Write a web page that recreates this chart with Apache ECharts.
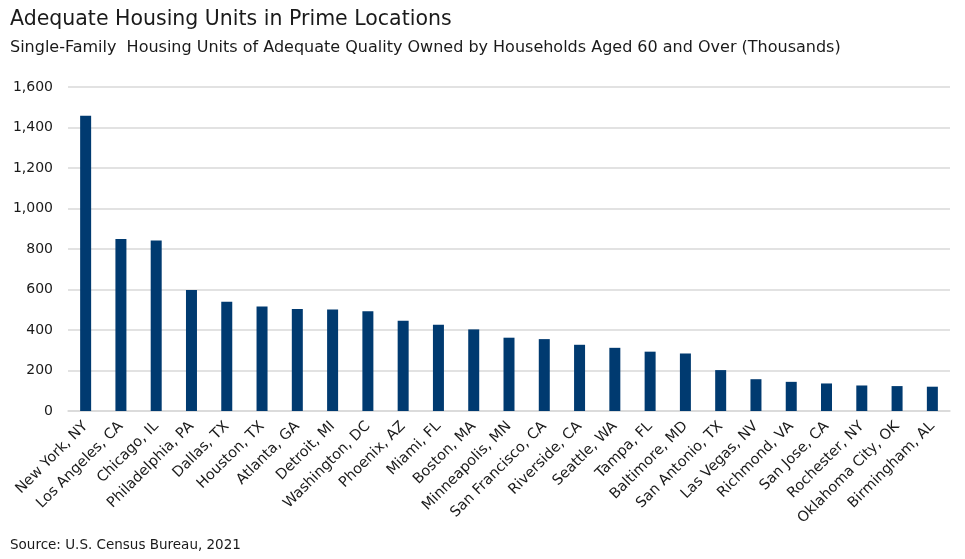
<!DOCTYPE html>
<html>
<head>
<meta charset="utf-8">
<script src="https://cdn.jsdelivr.net/npm/echarts@6/dist/echarts.min.js"></script>
<style>html,body{margin:0;padding:0;background:#fff}#c{width:965px;height:559px}</style>
</head>
<body>
<div id="c"></div>
<script>
const categories = ["New York, NY","Los Angeles, CA","Chicago, IL","Philadelphia, PA","Dallas, TX","Houston, TX","Atlanta, GA","Detroit, MI","Washington, DC","Phoenix, AZ","Miami, FL","Boston, MA","Minneapolis, MN","San Francisco, CA","Riverside, CA","Seattle, WA","Tampa, FL","Baltimore, MD","San Antonio, TX","Las Vegas, NV","Richmond, VA","San Jose, CA","Rochester, NY","Oklahoma City, OK","Birmingham, AL"];
const units = [1458,850,842,598,540,516,504,501,493,446,426,403,362,355,327,312,293,284,202,157,144,136,126,123,120];
const titleText = "Adequate Housing Units in Prime Locations";
const subtitleText = "Single-Family  Housing Units of Adequate Quality Owned by Households Aged 60 and Over (Thousands)";
const sourceText = "Source: U.S. Census Bureau, 2021";

const chart = echarts.init(document.getElementById('c'), null, {renderer:'canvas'});
const font = '"DejaVu Sans", sans-serif';
chart.setOption({
  animation:false,
  backgroundColor:'#fff',
  graphic:[
    {type:'text', left:10, top:9, style:{text:titleText, font:'20.5px '+font, fill:'#1a1a1a'}},
    {type:'text', left:10, top:40, style:{text:subtitleText, font:'16px '+font, fill:'#1a1a1a'}},
    {type:'text', left:10, top:538, style:{text:sourceText, font:'13.5px '+font, fill:'#1a1a1a'}}
  ],
  grid:{left:68, right:15, top:87, bottom:148},
  xAxis:{
    type:'category', data:categories,
    axisLine:{lineStyle:{color:'#d9d9d9', width:1.5}},
    axisTick:{show:false},
    axisLabel:{rotate:45, interval:0, color:'#1a1a1a', fontSize:14.5, fontFamily:font, margin:13}
  },
  yAxis:{
    type:'value', min:0, max:1600, interval:200,
    axisLine:{show:false}, axisTick:{show:false},
    splitLine:{lineStyle:{color:'#d9d9d9', width:1.5}},
    axisLabel:{color:'#1a1a1a', fontSize:14, fontFamily:font, margin:15,
      formatter:v=>v.toLocaleString('en-US')}
  },
  series:[{type:'bar', data:units, barWidth:11, itemStyle:{color:'#003a70'}}]
});
</script>
</body>
</html>
